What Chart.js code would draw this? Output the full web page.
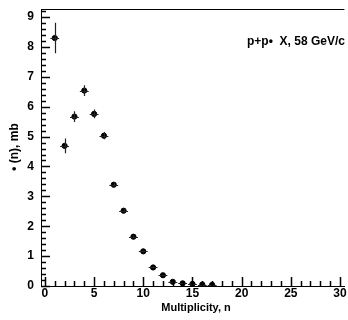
<!DOCTYPE html>
<html>
<head>
<meta charset="utf-8">
<script src="https://cdn.jsdelivr.net/npm/chart.js@4"></script>
<style>
  html, body { margin: 0; padding: 0; background: #fff; }
  #wrap { width: 348px; height: 320px; }
</style>
</head>
<body>
<div id="wrap"><canvas id="multChart" width="348" height="320"></canvas></div>
<script>
// Dades llegides de la figura
const multiplicity = [1, 2, 3, 4, 5, 6, 7, 8, 9, 10, 11, 12, 13, 14, 15, 16, 17];
const sigma = [8.30, 4.69, 5.67, 6.54, 5.76, 5.03, 3.39, 2.52, 1.65, 1.16, 0.62, 0.36, 0.14, 0.09, 0.07, 0.05, 0.04];
const sigmaErr = [0.51, 0.25, 0.18, 0.18, 0.15, 0.12, 0.08, 0.06, 0.05, 0.04, 0.03, 0.02, 0.02, 0.01, 0.01, 0.01, 0.01];
const binHalf = [0.45, 0.45, 0.45, 0.45, 0.45, 0.45, 0.45, 0.45, 0.45, 0.45, 0.45, 0.45, 0.45, 0.45, 0.45, 0.45, 0.45];
const xTicks = [0, 5, 10, 15, 20, 25, 30];
const yTicks = [0, 1, 2, 3, 4, 5, 6, 7, 8, 9];

const FONT = "'Liberation Sans Narrow', 'Liberation Sans', Arial, sans-serif";

// Barres d'error i textos
const extras = {
    id: 'extras',
    afterDatasetsDraw(chart) {
        const c = chart.ctx;
        const xs = chart.scales.x, ys = chart.scales.y;
        c.save();
        c.strokeStyle = '#222';
        c.lineWidth = 1.2;
        multiplicity.forEach((n, i) => {
            const px = Math.round(xs.getPixelForValue(n)) + 0.5;
            const py = Math.round(ys.getPixelForValue(sigma[i])) + 0.5;
            c.beginPath();
            c.moveTo(px, ys.getPixelForValue(sigma[i] - sigmaErr[i]));
            c.lineTo(px, ys.getPixelForValue(sigma[i] + sigmaErr[i]));
            c.moveTo(xs.getPixelForValue(n - binHalf[i]), py);
            c.lineTo(xs.getPixelForValue(n + binHalf[i]), py);
            c.stroke();
        });
        c.restore();
    },
    afterDraw(chart) {
        const c = chart.ctx;
        const xs = chart.scales.x, ys = chart.scales.y;
        const left = chart.chartArea.left, top = chart.chartArea.top;
        const right = chart.chartArea.right, bottom = chart.chartArea.bottom;
        c.save();
        c.strokeStyle = '#000';
        c.lineWidth = 1;

        // marc superior
        c.beginPath();
        c.moveTo(left, Math.round(top) + 0.5);
        c.lineTo(right, Math.round(top) + 0.5);
        c.stroke();

        // marques cap a dins
        c.lineWidth = 1.5;
        c.beginPath();
        for (let v = 0; v <= 30; v++) {
            const px = Math.round(xs.getPixelForValue(v)) + 0.5;
            const len = v % 5 === 0 ? 9 : 5;
            c.moveTo(px, bottom);
            c.lineTo(px, bottom - len);
        }
        for (let k = 0; k <= 46; k++) {
            const py = Math.round(ys.getPixelForValue(k * 0.2)) + 0.5;
            const len = k % 5 === 0 ? 9 : 5;
            c.moveTo(left, py);
            c.lineTo(left + len, py);
        }
        c.stroke();

        // textos
        c.fillStyle = '#000';
        c.font = 'bold 12px ' + FONT;
        c.textBaseline = 'middle';
        c.textAlign = 'left';
        c.fillText('p+p\u2022  X, 58 GeV/c', 247, 42);

        c.font = 'bold 11px ' + FONT;
        c.textAlign = 'center';
        c.fillText('Multiplicity, n', 196, 308);

        c.font = 'bold 12px ' + FONT;
        c.translate(15, 147);
        c.rotate(-Math.PI / 2);
        c.fillText('\u2022 (n), mb', 0, 0);
        c.restore();
    }
};

const ctx = document.getElementById('multChart').getContext('2d');
const multChart = new Chart(ctx, {
    type: 'scatter',
    data: {
        datasets: [{
            label: 'p+p',
            data: multiplicity.map((n, i) => ({ x: n, y: sigma[i] })),
            backgroundColor: '#000',
            borderColor: '#000',
            pointRadius: 2.6,
            pointHoverRadius: 2.6
        }]
    },
    options: {
        responsive: false,
        animation: false,
        events: [],
        layout: { padding: { top: 9, right: 0, left: 0, bottom: 0 } },
        plugins: { legend: { display: false }, tooltip: { enabled: false } },
        scales: {
            x: {
                type: 'linear',
                min: -0.4,
                max: 30.45,
                afterBuildTicks: s => { s.ticks = xTicks.map(v => ({ value: v })); },
                afterFit: s => { s.height = 34; s.paddingLeft = 0; s.paddingRight = 0; },
                grid: { display: false, drawTicks: false },
                border: { display: true, color: '#000', width: 1 },
                ticks: {
                    padding: 0,
                    color: '#000',
                    maxRotation: 0,
                    font: { family: FONT, size: 12, weight: 'bold' }
                }
            },
            y: {
                type: 'linear',
                min: 0,
                max: 9.27,
                afterBuildTicks: s => { s.ticks = yTicks.map(v => ({ value: v })); },
                afterFit: s => { s.width = 41; s.paddingTop = 0; s.paddingBottom = 0; },
                grid: { display: false, drawTicks: false },
                border: { display: true, color: '#000', width: 1 },
                ticks: {
                    padding: 7,
                    color: '#000',
                    font: { family: FONT, size: 12, weight: 'bold' }
                }
            }
        }
    },
    plugins: [extras]
});
</script>
</body>
</html>
